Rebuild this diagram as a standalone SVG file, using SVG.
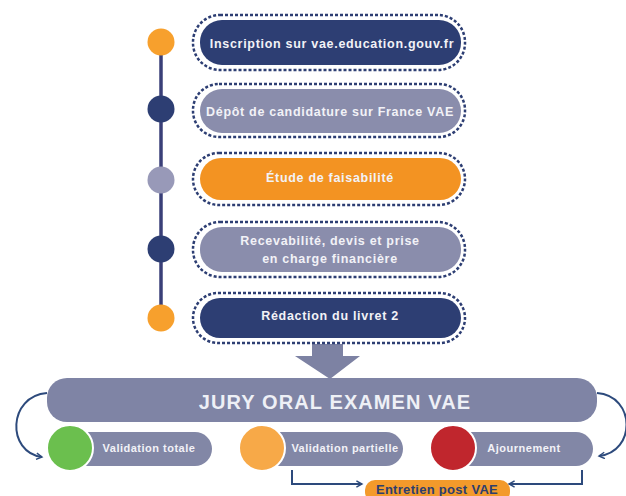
<svg xmlns="http://www.w3.org/2000/svg" width="626" height="496" viewBox="0 0 626 496">
<style>
.lbl{font-family:"Liberation Sans",Arial,sans-serif;font-weight:bold;fill:#f2f2f7;text-anchor:middle}
.step{font-size:12.5px;letter-spacing:0.7px}
.small{font-size:11px;letter-spacing:0.5px}
.dash{fill:none;stroke:#2d3e73;stroke-width:2.5;stroke-dasharray:3 2}
.navy{fill:#2d3e73}
.lav{fill:#8a8dac}
.orng{fill:#f39322}
.pill{fill:#8287a6}
.conn{fill:none;stroke:#2d4a7c;stroke-width:2}
.res{stroke:#ffffff;stroke-width:2}
</style>
<defs>
<marker id="chev" viewBox="0 0 10 10" refX="8" refY="5" markerWidth="8" markerHeight="8" markerUnits="userSpaceOnUse" orient="auto">
<path d="M1,1 L8,5 L1,9" fill="none" stroke="#2d4a7c" stroke-width="1.8"/>
</marker>
</defs>
<rect width="626" height="496" fill="#ffffff"/>
<g id="connectors">
<line x1="161" y1="42" x2="161" y2="318" stroke="#3a3f78" stroke-width="3.5"/>
<polygon points="312,344 343,344 343,356 360,356 330,379 295,356 312,356" fill="#7d82a3"/>
<path class="conn" d="M47,393 C8,396 6,452 42,457" marker-end="url(#chev)"/>
<path class="conn" d="M597,393 C636,396 636,452 599,456" marker-end="url(#chev)"/>
<path class="conn" d="M292,470 V484 H362" marker-end="url(#chev)"/>
<path class="conn" d="M582,470 V484 H509" marker-end="url(#chev)"/>
</g>
<g id="timeline">
<circle cx="161" cy="42" r="13.5" fill="#f7a02d"/>
<circle cx="161" cy="109" r="13.5" fill="#2d3e73"/>
<circle cx="161" cy="180" r="13.5" fill="#9899b8"/>
<circle cx="161" cy="249" r="13.5" fill="#2d3e73"/>
<circle cx="161" cy="318" r="13.5" fill="#f7a02d"/>
</g>
<g id="step1">
<rect class="dash" x="193" y="15" width="272" height="55" rx="27"/>
<rect class="navy" x="200" y="20" width="261" height="45" rx="22"/>
<text class="lbl step" x="332" y="48">Inscription sur vae.education.gouv.fr</text>
</g>
<g id="step2">
<rect class="dash" x="193" y="84" width="272" height="53" rx="26"/>
<rect class="lav" x="200" y="89" width="261" height="44" rx="22"/>
<text class="lbl step" x="330" y="116">Dépôt de candidature sur France VAE</text>
</g>
<g id="step3">
<rect class="dash" x="193" y="153" width="272" height="52" rx="26"/>
<rect class="orng" x="200" y="158" width="261" height="42" rx="21"/>
<text class="lbl step" x="330" y="182">Étude de faisabilité</text>
</g>
<g id="step4">
<rect class="dash" x="193" y="222" width="272" height="55" rx="27"/>
<rect class="lav" x="200" y="227" width="261" height="45" rx="22"/>
<text class="lbl step" x="330" y="245">Recevabilité, devis et prise</text>
<text class="lbl step" x="330" y="263">en charge financière</text>
</g>
<g id="step5">
<rect class="dash" x="193" y="293" width="272" height="50" rx="25"/>
<rect class="navy" x="200" y="298" width="261" height="40" rx="20"/>
<text class="lbl step" x="330" y="320">Rédaction du livret 2</text>
</g>
<g id="jury">
<rect x="47" y="378" width="550" height="44" rx="20" fill="#7f84a5"/>
<text class="lbl" x="335" y="409" style="font-size:20px;letter-spacing:1.1px;fill:#eef0f6">JURY ORAL EXAMEN VAE</text>
</g>
<g id="validation-totale">
<rect class="pill" x="70" y="432" width="142" height="34" rx="17"/>
<circle class="res" cx="70" cy="448" r="23" fill="#6bbf4e"/>
<text class="lbl small" x="149" y="452">Validation totale</text>
</g>
<g id="validation-partielle">
<rect class="pill" x="262" y="432" width="141" height="34" rx="17"/>
<circle class="res" cx="262" cy="448" r="23" fill="#f7a948"/>
<text class="lbl small" x="345" y="452">Validation partielle</text>
</g>
<g id="ajournement">
<rect class="pill" x="453" y="432" width="140" height="34" rx="17"/>
<circle class="res" cx="453" cy="448" r="23" fill="#c0262d"/>
<text class="lbl small" x="524" y="452">Ajournement</text>
</g>
<g id="entretien">
<rect x="365" y="480" width="145" height="22" rx="10" fill="#f39a2b"/>
<text class="lbl" x="437" y="494" style="font-size:13px;letter-spacing:0.3px;fill:#2d3e6e">Entretien post VAE</text>
</g>
</svg>
